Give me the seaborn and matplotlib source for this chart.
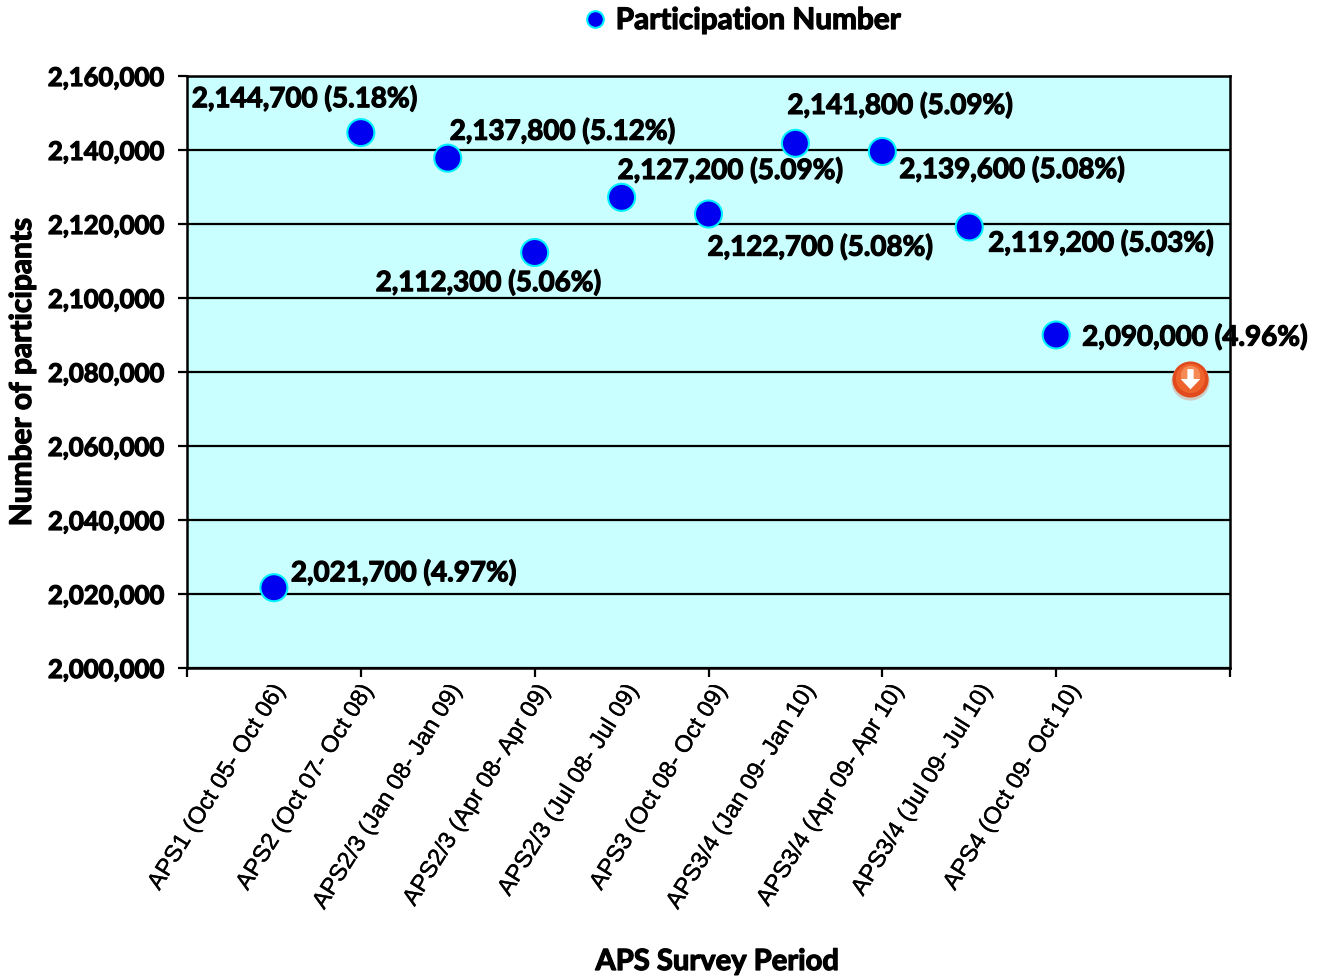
import matplotlib
matplotlib.use("Agg")
import matplotlib.pyplot as plt
import matplotlib.patheffects as pe
import seaborn as sns
import pandas as pd
from matplotlib.path import Path
from matplotlib.ticker import FuncFormatter

periods = ["APS1 (Oct 05- Oct 06)", "APS2 (Oct 07- Oct 08)", "APS2/3 (Jan 08- Jan 09)",
           "APS2/3 (Apr 08- Apr 09)", "APS2/3 (Jul 08- Jul 09)", "APS3 (Oct 08- Oct 09)",
           "APS3/4 (Jan 09- Jan 10)", "APS3/4 (Apr 09- Apr 10)", "APS3/4 (Jul 09- Jul 10)",
           "APS4 (Oct 09- Oct 10)"]
participants = [2021700, 2144700, 2137800, 2112300, 2127200, 2122700, 2141800, 2139600, 2119200, 2090000]
rates = ["4.97", "5.18", "5.12", "5.06", "5.09", "5.08", "5.09", "5.08", "5.03", "4.96"]
label_offsets = [(17, 15), (-169, 34), (2, 27), (-159, -30), (-4, 27), (-1, -33), (-8, 38), (17, -18), (19, -16), (26, -2)]

sns.set_theme(style="white")
BOLD = ["Lato", "DejaVu Sans"]
EMBOLDEN = [pe.withStroke(linewidth=0.9, foreground="black")]
W, H = 1323, 976
fig = plt.figure(figsize=(W / 100, H / 100), dpi=100)
ax = fig.add_axes([187 / W, 1 - 668 / H, (1230 - 187) / W, (668 - 76) / H])
ax.set_facecolor("#C9FFFF")

df = pd.DataFrame({"pos": range(1, len(periods) + 1), "n": participants, "series": "Participation Number"})
sns.scatterplot(data=df, x="pos", y="n", hue="series", palette=["#0000F0"], s=378, edgecolor="#00F0FF",
                linewidth=1.5, ax=ax, zorder=4, clip_on=False)

ax.set_xlim(0, 12)
ax.set_ylim(2000000, 2160000)
ax.set_yticks(range(2000000, 2160001, 20000))
ax.yaxis.set_major_formatter(FuncFormatter(lambda v, _: f"{int(v):,}"))
ax.grid(True, axis="y", color="black", lw=1.6, zorder=1)
ax.set_axisbelow(True)
ax.xaxis.remove_overlapping_locs = False
ax.set_xticks(range(0, 13, 2))
ax.set_xticklabels([])
# the rotated labels sit slightly wider apart than the markers in the reference
ax.set_xticks([0.965 + i * 1.017 for i in range(len(periods))], minor=True)
ax.set_xticklabels(periods, minor=True, rotation=58, ha="right", va="top", rotation_mode="anchor",
                   family=["Liberation Sans"], fontsize=17.1, color="black",
                   path_effects=[pe.withStroke(linewidth=0.25, foreground="black")])
ax.tick_params(axis="x", which="minor", length=0, pad=9)
ax.tick_params(axis="x", which="major", length=6.5, width=1.6, color="black", bottom=True)
ax.tick_params(axis="y", which="major", length=6.5, width=1.6, color="black", left=True, pad=10)
for t in ax.get_yticklabels():
    t.set_family(BOLD); t.set_weight("bold"); t.set_fontsize(18.5); t.set_color("black")
    t.set_path_effects(EMBOLDEN)
for s in ax.spines.values():
    s.set_color("black"); s.set_linewidth(1.8); s.set_visible(True)

ax.set_xlabel("")
ax.set_ylabel("")
fig.text(717 / W, 1 - 962 / H, "APS Survey Period", ha="center", va="center", family=BOLD, weight="bold",
         fontsize=21, color="black", path_effects=EMBOLDEN)
fig.text(22 / W, 1 - 372 / H, "Number of participants", ha="center", va="center", rotation=90, family=BOLD,
         weight="bold", fontsize=21.5, color="black", path_effects=EMBOLDEN)

for x, y, r, off in zip(df["pos"], participants, rates, label_offsets):
    ax.annotate(f"{y:,} ({r}%)", (x, y), xytext=off, textcoords="offset pixels", ha="left", va="center",
                family=BOLD, weight="bold", fontsize=20, color="black", zorder=6, annotation_clip=False,
                path_effects=EMBOLDEN)

handles, labels = ax.get_legend_handles_labels()
if ax.legend_:
    ax.legend_.remove()
for h in handles:
    h.set_markersize(12)
leg = fig.legend(handles, labels, loc="center", bbox_to_anchor=(733 / W, 1 - 20 / H), frameon=False,
                 handletextpad=-0.3, prop={"family": BOLD, "weight": "bold", "size": 21.4}, labelcolor="black")
for t in leg.get_texts():
    t.set_path_effects(EMBOLDEN)

# decorative down-arrow badge
ix, iy = (1190 - 187) / (1230 - 187), (668 - 379) / (668 - 76)
kw = dict(transform=ax.transAxes, clip_on=False, ls="none", marker="o", mew=0, zorder=5)
ax.plot([ix], [iy - 0.003], ms=27.5, mfc="#CFCBC2", **kw)
ax.plot([ix], [iy], ms=26, mfc="#E04A1C", **kw)
ax.plot([ix], [iy + 0.002], ms=21, mfc="#EE622C", **kw)
ax.plot([ix], [iy + 0.006], ms=14, mfc="#F68A55", **kw)
arrow = Path([(-0.3, 1), (0.3, 1), (0.3, 0.05), (0.95, 0.05), (0, -0.95), (-0.95, 0.05), (-0.3, 0.05), (-0.3, 1)])
ax.plot([ix], [iy], ms=15, mfc="white", **{**kw, "marker": arrow})

fig.savefig("out.png", dpi=100, facecolor="white")
